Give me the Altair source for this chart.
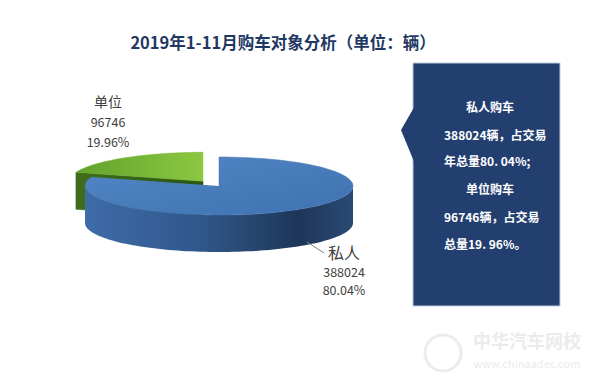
import altair as alt
import pandas as pd

# ---------------- data ----------------
categories = ["私人", "单位"]
values = [388024, 96746]
slice_order = [0, 1]
title_text = ["2019年1-11月购车对象分析（单位：辆）"]
callout_lines = ["私人购车", "388024辆，占交易", "年总量80. 04%;",
                 "单位购车", "96746辆，占交易", "总量19. 96%。"]
watermark = ["中华汽车网校", "www.chinaadec.com"]

df = pd.DataFrame({"category": categories, "value": values, "order": slice_order})

# ---------------- layout / style constants ----------------
FONT = "Noto Sans CJK SC"
CX, CY, RX, RY, T = 219, 186, 134, 29, 37   # ellipse (page px)
EXPLODED, EXPLODE = "单位", 0.2
N = 90

X = alt.X("px:Q", scale=alt.Scale(domain=[8, 592], nice=False, zero=False), axis=None)
Y = alt.Y("py:Q", scale=alt.Scale(domain=[8, 374], nice=False, zero=False, reverse=True), axis=None)


def grad(stops, x1=0, y1=0, x2=1, y2=0):
    return alt.Gradient(gradient="linear",
                        stops=[alt.GradientStop(color=c, offset=o) for o, c in stops],
                        x1=x1, y1=y1, x2=x2, y2=y2)


def pie_base():
    return (alt.Chart(df)
            .transform_joinaggregate(total="sum(value)")
            .transform_window(cum="sum(value)", sort=[alt.SortField("order")], frame=[None, 0])
            .transform_calculate(a0="PI/2 - 2*PI*(datum.cum - datum.value)/datum.total")
            .transform_calculate(a1="PI/2 - 2*PI*datum.cum/datum.total")
            .transform_calculate(mid="(datum.a0 + datum.a1)/2")
            .transform_calculate(ex=f"datum.category == '{EXPLODED}' ? {EXPLODE} : 0")
            .transform_calculate(cx=f"{CX} + {RX}*datum.ex*cos(datum.mid)")
            .transform_calculate(cy=f"{CY} - {RY}*datum.ex*sin(datum.mid)"))


def top_face(cat):
    return (pie_base()
            .transform_filter(f"datum.category == '{cat}'")
            .transform_calculate(s=f"sequence(-1, {N + 1})")
            .transform_flatten(["s"])
            .transform_calculate(ang=f"datum.a0 + (datum.a1 - datum.a0)*datum.s/{N}")
            .transform_calculate(px=f"datum.s < 0 ? datum.cx : datum.cx + {RX}*cos(datum.ang)")
            .transform_calculate(py=f"datum.s < 0 ? datum.cy : datum.cy - {RY}*sin(datum.ang)"))


# green cut face (front-facing radial side of the exploded slice)
green_face = (pie_base()
              .transform_filter(f"datum.category == '{EXPLODED}'")
              .transform_calculate(s="sequence(0, 4)")
              .transform_flatten(["s"])
              .transform_calculate(ex_x=f"datum.cx + {RX}*cos(datum.a0)")
              .transform_calculate(ex_y=f"datum.cy - {RY}*sin(datum.a0)")
              .transform_calculate(px="(datum.s == 0 || datum.s == 3) ? datum.cx : datum.ex_x")
              .transform_calculate(py=f"datum.s == 0 ? datum.cy : datum.s == 1 ? datum.ex_y : "
                                      f"datum.s == 2 ? datum.ex_y + {T} : datum.cy + {T}")
              .mark_line(fill=grad([(0, "#3e6e1c"), (1, "#2e5414")]), stroke="#34601a", strokeWidth=0.5)
              .encode(x=X, y=Y, order="s:Q"))

green_top = (top_face(EXPLODED)
             .mark_line(fill=grad([(0, "#62a22c"), (1, "#8cc840")]), stroke="#76b336", strokeWidth=0.5)
             .encode(x=X, y=Y, order="s:Q"))

# blue front wall
blue_wall = (pie_base()
             .transform_filter("datum.category == '私人'")
             .transform_calculate(lo="max(min(datum.a0, datum.a1), -PI)")
             .transform_calculate(hi="min(max(datum.a0, datum.a1), 0)")
             .transform_filter("datum.lo < datum.hi")
             .transform_calculate(s=f"sequence(0, {N + 1})")
             .transform_flatten(["s"])
             .transform_calculate(ang=f"datum.lo + (datum.hi - datum.lo)*datum.s/{N}")
             .transform_calculate(px=f"datum.cx + {RX}*cos(datum.ang)")
             .transform_calculate(py=f"datum.cy - {RY}*sin(datum.ang)")
             .transform_calculate(py2=f"datum.py + {T}")
             .mark_area(fill=grad([(0, "#3e6ca8"), (0.45, "#2f5689"), (0.8, "#1e3658"), (1, "#2a4a74")]))
             .encode(x=X, y=Y, y2=alt.Y2("py2:Q")))

blue_top = (top_face("私人")
            .mark_line(fill=grad([(0, "#5286c6"), (1, "#3f72b0")], x1=0, y1=0, x2=1, y2=1),
                       stroke="#4677b5", strokeWidth=0.5)
            .encode(x=X, y=Y, order="s:Q"))

# ---------------- data labels ----------------
lab = (alt.Chart(df)
       .transform_joinaggregate(total="sum(value)")
       .transform_calculate(pct="datum.value / datum.total"))


def slice_labels(cat, cx, y0, name_size, dy1, dy2):
    b = lab.transform_filter(f"datum.category == '{cat}'")
    common = dict(font=FONT, color="#404040", align="center", baseline="middle")
    return alt.layer(
        b.mark_text(fontSize=name_size, **common).encode(
            x=alt.value(cx - 8), y=alt.value(y0 - 8), text="category:N"),
        b.mark_text(fontSize=12.5, **common).encode(
            x=alt.value(cx - 8), y=alt.value(y0 + dy1 - 8), text=alt.Text("value:Q", format="d")),
        b.mark_text(fontSize=12.5, **common).encode(
            x=alt.value(cx - 8), y=alt.value(y0 + dy2 - 8), text=alt.Text("pct:Q", format=".2%")),
    )


labels_unit = slice_labels("单位", 108, 103, 14, 20, 40)
labels_priv = slice_labels("私人", 344, 254, 16, 19, 37)

leader = alt.Chart(pd.DataFrame({"k": [0]})).mark_rule(color="#808080", strokeWidth=1).encode(
    x=alt.value(307 - 8), x2=alt.value(324 - 8), y=alt.value(242 - 8), y2=alt.value(253 - 8))

# ---------------- title ----------------
title = alt.Chart(pd.DataFrame({"t": title_text})).mark_text(
    font=FONT, fontSize=16.5, fontWeight="bold", color="#1f3864", align="center", baseline="middle"
).encode(x=alt.value(283 - 8), y=alt.value(44 - 8), text="t:N")

# ---------------- callout box ----------------
one = pd.DataFrame({"k": [0]})
box = alt.Chart(one).mark_rect(color="#233f70", stroke="#b9cadc", strokeWidth=1).encode(
    x=alt.value(413 - 8), x2=alt.value(560 - 8), y=alt.value(63 - 8), y2=alt.value(306 - 8))
notch = alt.Chart(one).mark_point(
    shape="M0.08,-1 L-0.4,-0.17 L0.08,1 Z", size=3600, filled=True, color="#233f70", opacity=1
).encode(x=alt.value(413 - 8), y=alt.value(135 - 8))

callout_y = [108, 136, 162, 190, 218, 245]
callout_layers = []
for i, line in enumerate(callout_lines):
    centered = i in (0, 3)
    callout_layers.append(
        alt.Chart(pd.DataFrame({"t": [line]})).mark_text(
            font=FONT, fontSize=12, fontWeight="bold", color="white",
            align="center" if centered else "left", baseline="middle"
        ).encode(x=alt.value((490 if centered else 444) - 8), y=alt.value(callout_y[i] - 8), text="t:N")
    )

# ---------------- watermark ----------------
wm_logo = alt.Chart(one).mark_point(shape="circle", size=1300, filled=False, color="#ececec",
                                     strokeWidth=3, opacity=1).encode(
    x=alt.value(443 - 8), y=alt.value(353 - 8))
wm_text1 = alt.Chart(pd.DataFrame({"t": [watermark[0]]})).mark_text(
    font=FONT, fontSize=18, fontWeight="bold", color="#ebebeb", align="center", baseline="middle"
).encode(x=alt.value(527 - 8), y=alt.value(343 - 8), text="t:N")
wm_text2 = alt.Chart(pd.DataFrame({"t": [watermark[1]]})).mark_text(
    font=FONT, fontSize=11, color="#ebebeb", align="center", baseline="middle"
).encode(x=alt.value(527 - 8), y=alt.value(365 - 8), text="t:N")

chart = alt.layer(
    wm_logo, wm_text1, wm_text2,
    green_face, green_top, blue_wall, blue_top,
    labels_unit, labels_priv, leader, title,
    box, notch, *callout_layers,
).properties(
    width=584, height=366,
    autosize=alt.AutoSizeParams(type="none"),
    padding=0,
    background="white",
).configure_view(stroke=None)

chart.save("out.html", embed_options={"renderer": "svg", "actions": False})
